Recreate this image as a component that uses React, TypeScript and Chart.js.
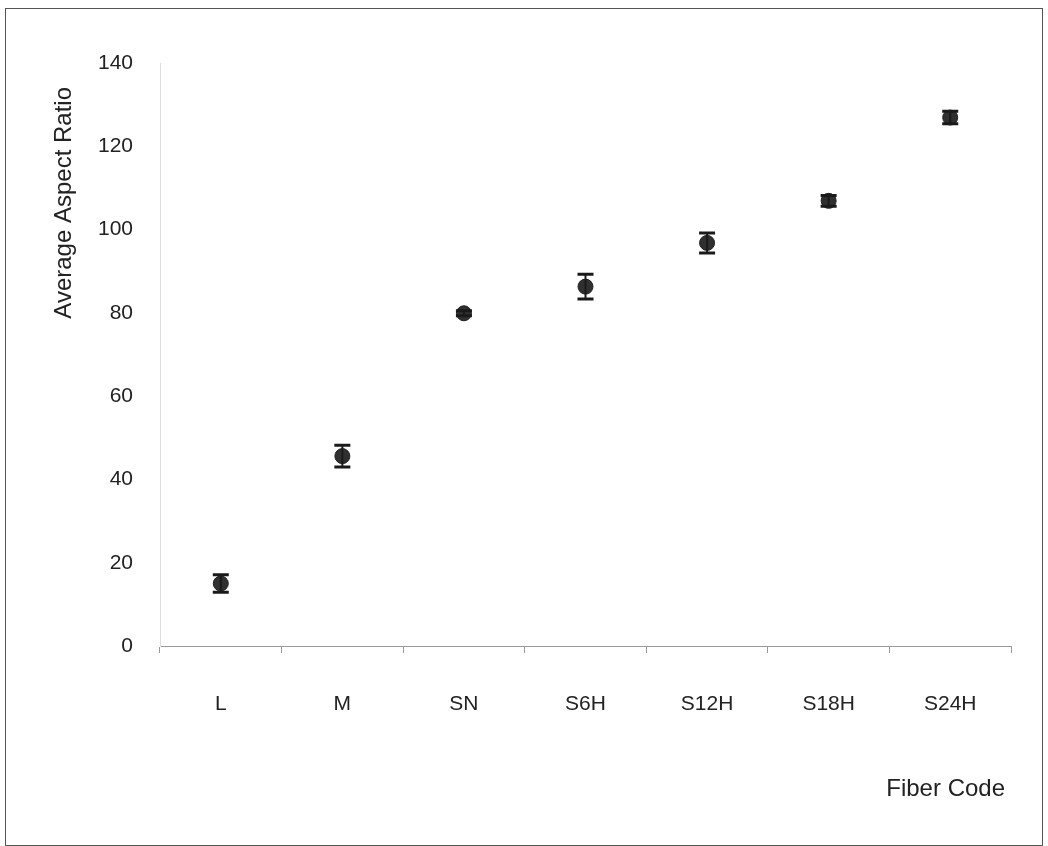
import React, { useEffect, useRef } from "react";
import { Chart, registerables } from "chart.js";

Chart.register(...registerables);

const categories: string[] = ["L", "M", "SN", "S6H", "S12H", "S18H", "S24H"];
const meanAspectRatio: number[] = [15.0, 45.6, 79.9, 86.3, 96.8, 106.9, 126.9];
const errorAspectRatio: number[] = [2.1, 2.6, 0.6, 3.0, 2.4, 1.3, 1.5];
const yTicks: number[] = [0, 20, 40, 60, 80, 100, 120, 140];
const xTitle = "Fiber Code";
const yTitle = "Average Aspect Ratio";

const FONT = "'Liberation Sans', Arial, sans-serif";

const framePlugin = {
  id: "frame",
  beforeDraw(chart: any) {
    const ctx = chart.ctx;
    ctx.save();
    ctx.fillStyle = "#ffffff";
    ctx.fillRect(0, 0, chart.width, chart.height);
    ctx.strokeStyle = "#555555";
    ctx.lineWidth = 1;
    ctx.strokeRect(5.5, 8.5, 1037, 837);
    ctx.restore();
  },
};

const errorBarPlugin = {
  id: "errorBars",
  afterDatasetsDraw(chart: any) {
    const ctx = chart.ctx;
    const xs = chart.scales.x;
    const ys = chart.scales.y;
    ctx.save();
    ctx.strokeStyle = "#1a1a1a";
    meanAspectRatio.forEach((m, i) => {
      const e = errorAspectRatio[i];
      const x = xs.getPixelForValue(i);
      const yT = ys.getPixelForValue(m + e);
      const yB = ys.getPixelForValue(m - e);
      ctx.lineWidth = 2;
      ctx.beginPath();
      ctx.moveTo(x, yT);
      ctx.lineTo(x, yB);
      ctx.stroke();
      ctx.lineWidth = 3;
      ctx.beginPath();
      ctx.moveTo(x - 8, yT);
      ctx.lineTo(x + 8, yT);
      ctx.moveTo(x - 8, yB);
      ctx.lineTo(x + 8, yB);
      ctx.stroke();
    });
    ctx.restore();
  },
};

const titlesPlugin = {
  id: "axisTitles",
  afterDraw(chart: any) {
    const ctx = chart.ctx;
    ctx.save();
    ctx.font = `24px ${FONT}`;
    ctx.fillStyle = "#222222";
    ctx.textBaseline = "middle";
    // x-axis title
    ctx.textAlign = "right";
    ctx.fillText(xTitle, 1005, 789);
    // y-axis title
    ctx.translate(64, 87);
    ctx.rotate(-Math.PI / 2);
    ctx.textAlign = "right";
    ctx.fillText(yTitle, 0, 0);
    ctx.restore();
  },
};

export default function App() {
  const ref = useRef<HTMLCanvasElement | null>(null);

  useEffect(() => {
    if (!ref.current) return;
    const chart = new Chart(ref.current, {
      type: "line",
      data: {
        labels: categories,
        datasets: [
          {
            label: yTitle,
            data: meanAspectRatio,
            showLine: false,
            pointRadius: 7.5,
            pointBorderWidth: 1,
            pointBackgroundColor: "#303030",
            pointBorderColor: "#222222",
          },
        ],
      },
      options: {
        responsive: false,
        animation: false,
        events: [],
        layout: { padding: { left: 0, top: 63, right: 37, bottom: 0 } },
        plugins: {
          legend: { display: false },
          tooltip: { enabled: false },
        },
        scales: {
          x: {
            type: "category",
            offset: true,
            grid: {
              offset: true,
              drawOnChartArea: false,
              drawTicks: true,
              tickLength: 7,
              color: "#999999",
            },
            border: { display: true, color: "#999999", width: 1 },
            ticks: {
              color: "#222222",
              padding: 39,
              maxRotation: 0,
              font: { family: FONT, size: 21 },
            },
            afterFit(scale: any) {
              scale.height = 200;
            },
          },
          y: {
            min: 0,
            max: 140,
            afterBuildTicks(scale: any) {
              scale.ticks = yTicks.map((v) => ({ value: v }));
            },
            grid: { drawOnChartArea: false, drawTicks: false },
            border: { display: true, color: "#dddddd", width: 1 },
            ticks: {
              color: "#222222",
              padding: 27,
              font: { family: FONT, size: 21 },
            },
            afterFit(scale: any) {
              scale.width = 160;
            },
          },
        },
      },
      plugins: [framePlugin, errorBarPlugin, titlesPlugin],
    });
    return () => chart.destroy();
  }, []);

  return (
    <div style={{ position: "absolute", left: 0, top: 0, width: 1048, height: 846 }}>
      <canvas ref={ref} width={1048} height={846} style={{ width: 1048, height: 846 }} />
    </div>
  );
}
